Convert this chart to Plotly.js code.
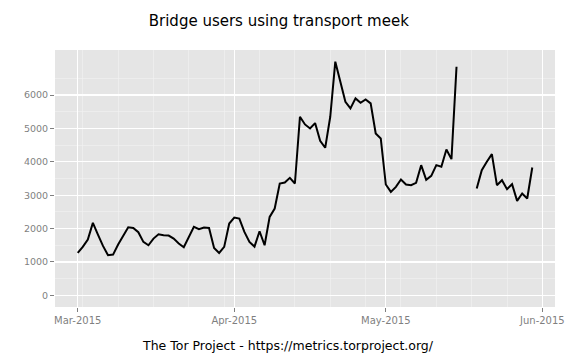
<!DOCTYPE html>
<html>
<head>
<meta charset="utf-8">
<script src="https://cdn.plot.ly/plotly-3.0.1.min.js"></script>
<style>html,body{margin:0;padding:0;background:#fff;}</style>
</head>
<body>
<div id="chart" style="width:576px;height:360px;"></div>
<script>
const dates = [
  "2015-03-01","2015-03-02","2015-03-03","2015-03-04","2015-03-05","2015-03-06","2015-03-07","2015-03-08","2015-03-09","2015-03-10",
  "2015-03-11","2015-03-12","2015-03-13","2015-03-14","2015-03-15","2015-03-16","2015-03-17","2015-03-18","2015-03-19","2015-03-20",
  "2015-03-21","2015-03-22","2015-03-23","2015-03-24","2015-03-25","2015-03-26","2015-03-27","2015-03-28","2015-03-29","2015-03-30",
  "2015-03-31","2015-04-01","2015-04-02","2015-04-03","2015-04-04","2015-04-05","2015-04-06","2015-04-07","2015-04-08","2015-04-09",
  "2015-04-10","2015-04-11","2015-04-12","2015-04-13","2015-04-14","2015-04-15","2015-04-16","2015-04-17","2015-04-18","2015-04-19",
  "2015-04-20","2015-04-21","2015-04-22","2015-04-23","2015-04-24","2015-04-25","2015-04-26","2015-04-27","2015-04-28","2015-04-29",
  "2015-04-30","2015-05-01","2015-05-02","2015-05-03","2015-05-04","2015-05-05","2015-05-06","2015-05-07","2015-05-08","2015-05-09",
  "2015-05-10","2015-05-11","2015-05-12","2015-05-13","2015-05-14","2015-05-15","2015-05-16","2015-05-17","2015-05-18","2015-05-19",
  "2015-05-20","2015-05-21","2015-05-22","2015-05-23","2015-05-24","2015-05-25","2015-05-26","2015-05-27","2015-05-28","2015-05-29",
  "2015-05-30"
];
const users = [
  1270,1450,1670,2170,1820,1480,1200,1220,1520,1780,
  2040,2020,1890,1600,1500,1700,1830,1800,1790,1700,
  1550,1440,1750,2050,1980,2030,2020,1420,1270,1450,
  2150,2330,2300,1900,1600,1460,1920,1500,2350,2600,
  3350,3380,3520,3350,5350,5120,5000,5160,4630,4420,
  5350,7000,6400,5800,5600,5900,5770,5870,5750,4850,
  4700,3320,3100,3250,3470,3320,3300,3370,3900,3460,
  3580,3900,3850,4370,4080,6850,null,null,null,3200,
  3750,4000,4230,3300,3450,3180,3330,2830,3050,2900,
  3830
];
const xTickVals = ["2015-03-01","2015-04-01","2015-05-01","2015-06-01"];
const xTickText = ["Mar-2015","Apr-2015","May-2015","Jun-2015"];
const yTickVals = [0,1000,2000,3000,4000,5000,6000];
const yTickText = ["0","1000","2000","3000","4000","5000","6000"];
const titleText = "Bridge users using transport meek";
const captionText = "The Tor Project - https://metrics.torproject.org/";

const trace = {
  x: dates, y: users, type: "scatter", mode: "lines",
  connectgaps: false,
  line: {color: "#000000", width: 2},
  hoverinfo: "skip"
};

const layout = {
  width: 576, height: 360,
  margin: {l: 55, r: 21, t: 50, b: 53, pad: 0},
  paper_bgcolor: "#ffffff",
  plot_bgcolor: "#E5E5E5",
  showlegend: false,
  font: {family: "DejaVu Sans, sans-serif"},
  title: {text: titleText, font: {size: 15, color: "#000000", family: "DejaVu Sans, sans-serif"},
          x: 0.484, xref: "container", xanchor: "center", y: 0.942, yref: "container", yanchor: "middle"},
  xaxis: {
    type: "date",
    range: ["2015-02-24 12:00", "2015-06-03 12:00"],
    tickvals: xTickVals, ticktext: xTickText,
    ticks: "outside", ticklen: 4, tickwidth: 1, tickcolor: "#7F7F7F",
    tickfont: {size: 10, color: "#7F7F7F"},
    showgrid: true, gridcolor: "#FFFFFF", gridwidth: 1.2,
    zeroline: false, showline: false,
    minor: {tick0: "2015-03-02", dtick: 604800000, showgrid: true, gridcolor: "#F2F2F2", gridwidth: 0.6, ticks: ""}
  },
  yaxis: {
    range: [-350, 7350],
    tickvals: yTickVals, ticktext: yTickText,
    ticks: "outside", ticklen: 4, tickwidth: 1, tickcolor: "#7F7F7F",
    tickfont: {size: 9.5, color: "#7F7F7F"},
    showgrid: true, gridcolor: "#FFFFFF", gridwidth: 1.2,
    zeroline: false, showline: false,
    minor: {tick0: 500, dtick: 1000, showgrid: true, gridcolor: "#F2F2F2", gridwidth: 0.6, ticks: ""}
  },
  annotations: [{
    text: captionText, xref: "paper", yref: "paper", x: 0.466, y: -0.148,
    xanchor: "center", yanchor: "middle", showarrow: false,
    font: {size: 12.5, color: "#000000", family: "DejaVu Sans, sans-serif"}
  }]
};

Plotly.newPlot("chart", [trace], layout, {staticPlot: true, displayModeBar: false});
</script>
</body>
</html>
